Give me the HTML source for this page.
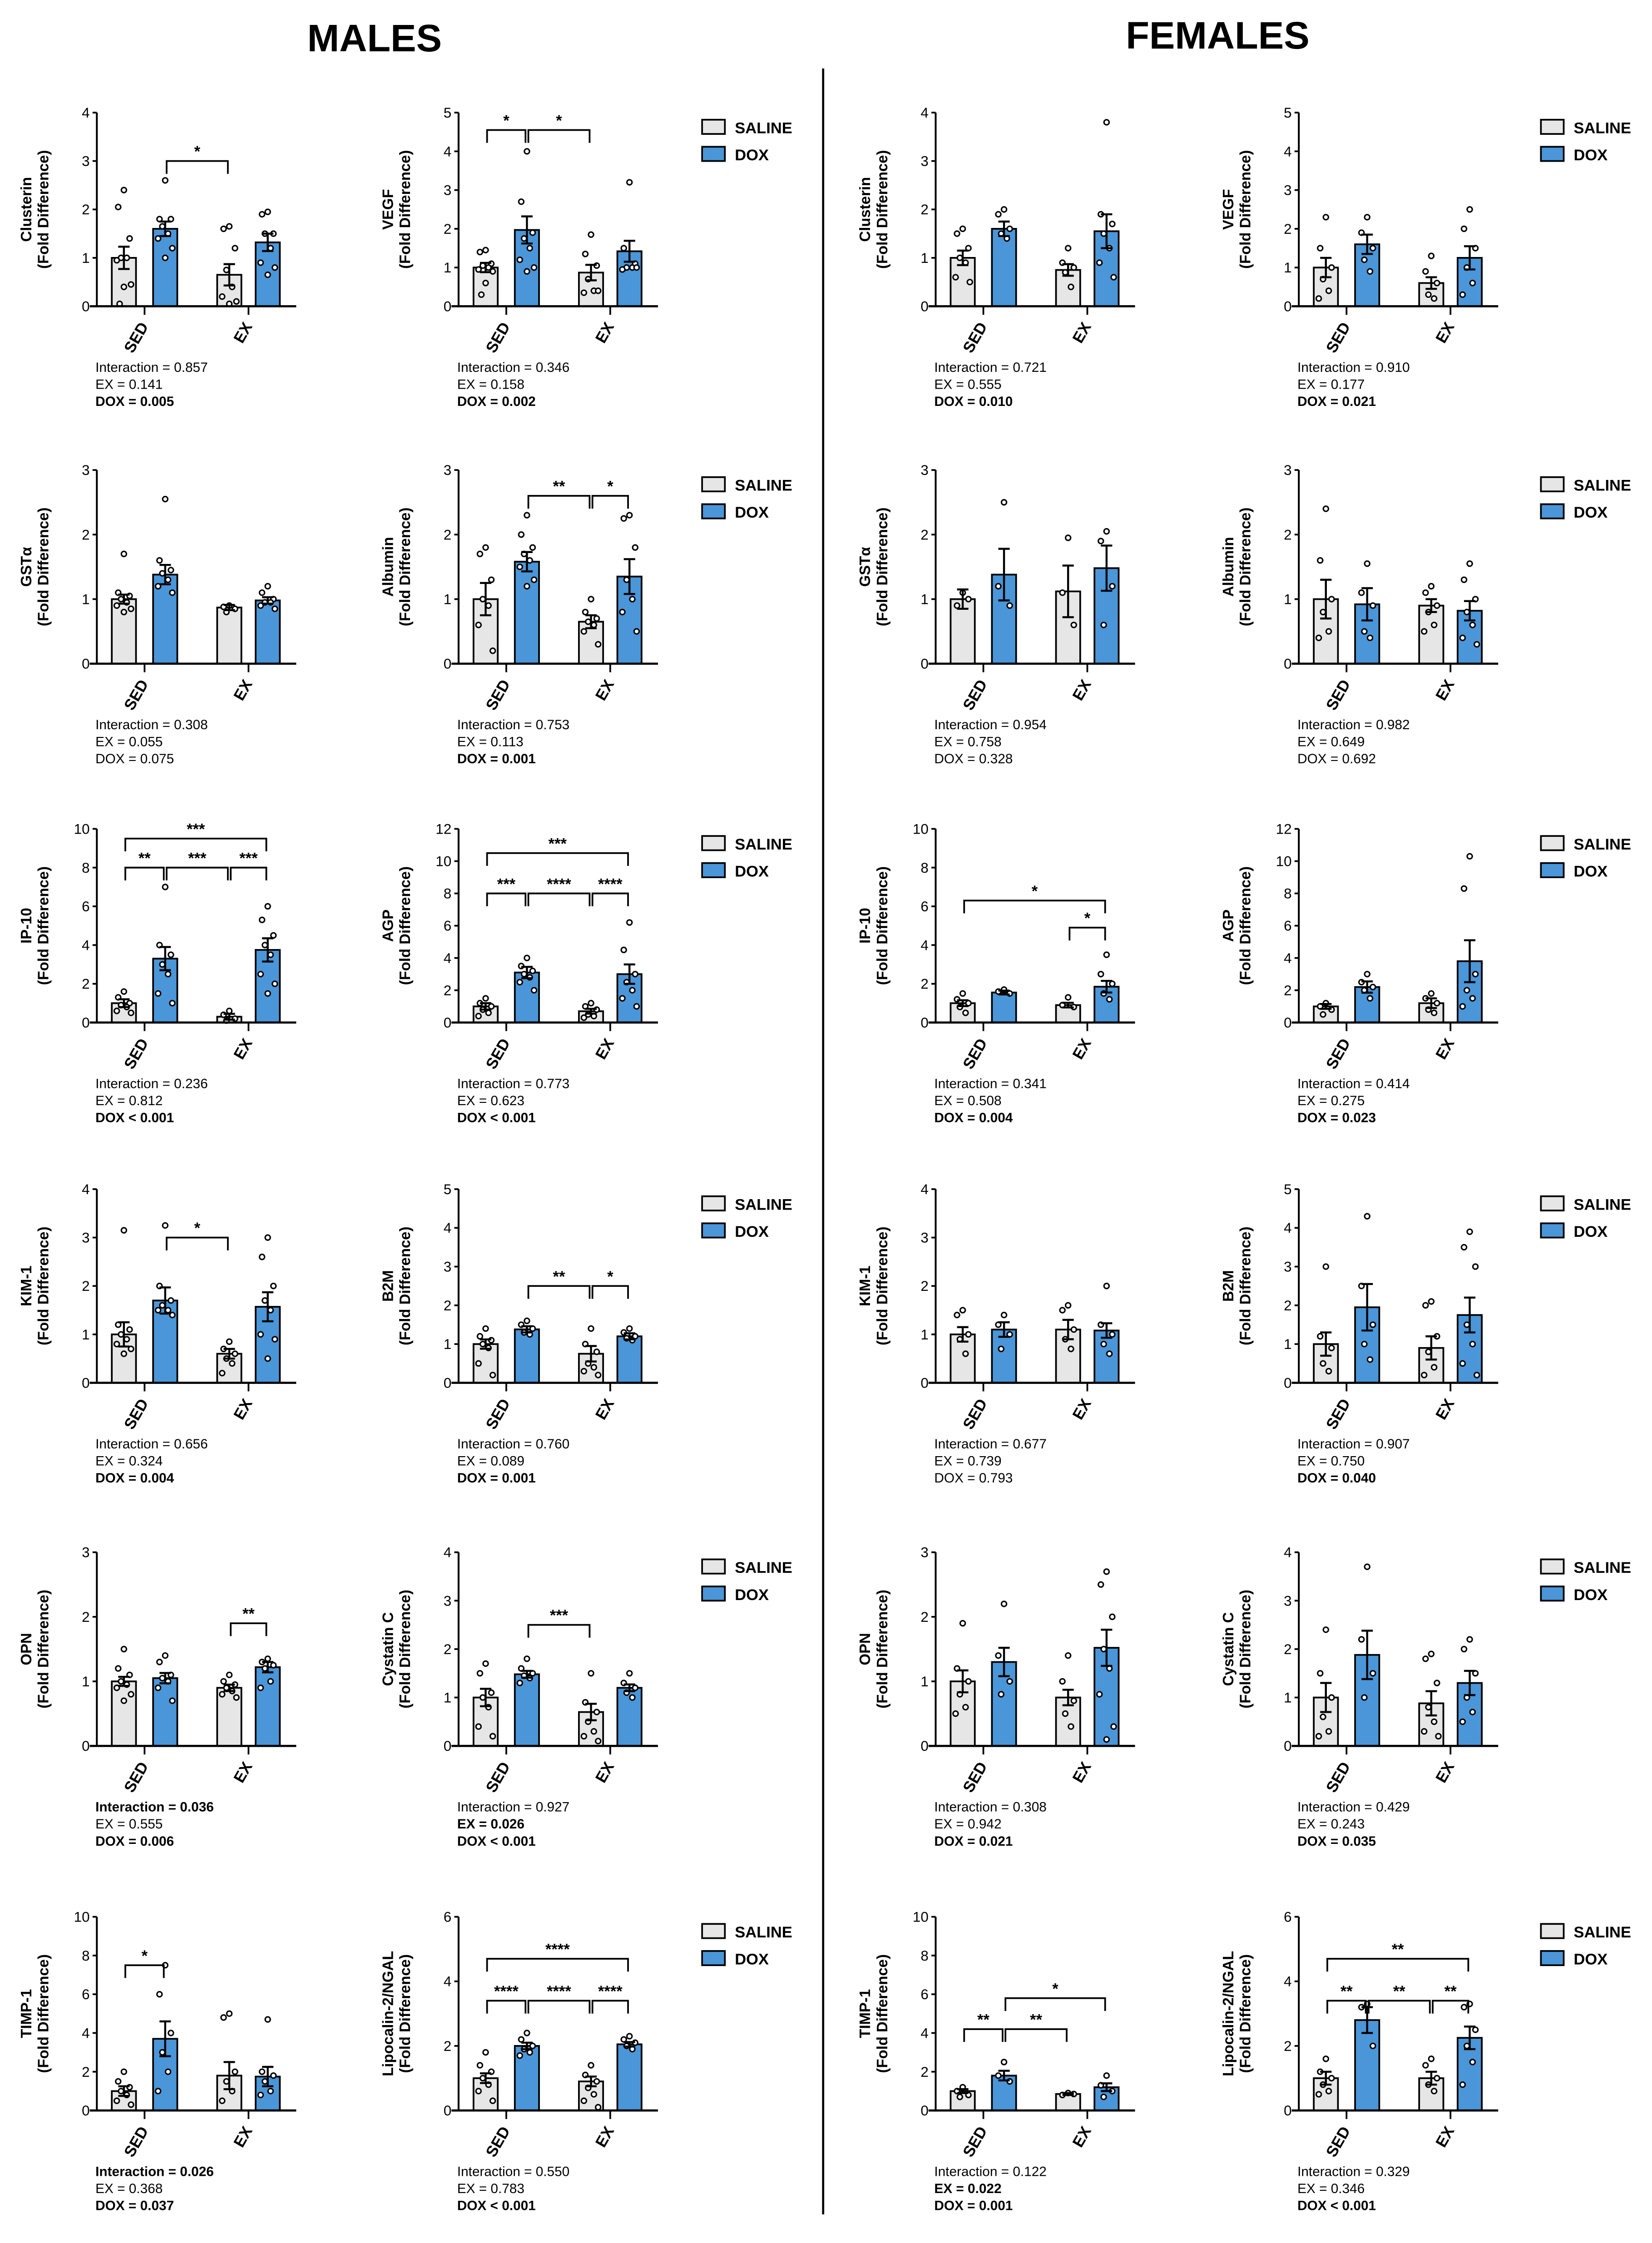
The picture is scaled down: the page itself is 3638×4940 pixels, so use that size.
<!DOCTYPE html>
<html><head><meta charset="utf-8"><style>
html,body{margin:0;padding:0;background:#fff}
svg{display:block;font-family:"Liberation Sans",sans-serif}
</style></head><body>
<svg id="fig" width="3638" height="4940" viewBox="0 0 1160 1575" xmlns="http://www.w3.org/2000/svg">
<rect width="1160" height="1575" fill="#fff"/>
<text x="263" y="36" font-size="27" font-weight="bold" text-anchor="middle">MALES</text>
<text x="855" y="34" font-size="27" font-weight="bold" text-anchor="middle">FEMALES</text>
<line x1="578" y1="48" x2="578" y2="1555" stroke="#000" stroke-width="1.5"/>
<g id="plots"></g>
</svg>
<script>
const panelNames=["Clusterin","VEGF","GSTα","Albumin","IP-10","AGP","KIM-1","B2M","OPN","Cystatin C","TIMP-1","Lipocalin-2/NGAL",
"Clusterin","VEGF","GSTα","Albumin","IP-10","AGP","KIM-1","B2M","OPN","Cystatin C","TIMP-1","Lipocalin-2/NGAL"];
const yMaxes=[4,5,3,3,10,12,4,5,3,4,10,6, 4,5,3,3,10,12,4,5,3,4,10,6];
const yStepsVals=[1,1,1,1,2,2,1,1,1,1,2,2, 1,1,1,1,2,2,1,1,1,1,2,2];
const categories=["SED","EX"];
const groups=["SALINE","DOX"];
const means=[[1.0,1.6,0.65,1.32],[1.0,1.97,0.87,1.42],[1.0,1.38,0.87,0.98],[1.0,1.58,0.65,1.35],[1.0,3.3,0.3,3.75],[1.0,3.1,0.7,3.0],
[1.0,1.7,0.6,1.57],[1.0,1.38,0.75,1.2],[1.0,1.05,0.9,1.22],[1.0,1.48,0.7,1.2],[1.0,3.7,1.8,1.75],[1.0,2.0,0.9,2.05],
[1.0,1.6,0.75,1.55],[1.0,1.6,0.6,1.25],[1.0,1.38,1.12,1.48],[1.0,0.92,0.9,0.82],[1.0,1.55,0.9,1.85],[1.0,2.2,1.2,3.8],
[1.0,1.1,1.1,1.08],[1.0,1.95,0.9,1.75],[1.0,1.3,0.75,1.52],[1.0,1.88,0.88,1.3],[1.0,1.8,0.85,1.2],[1.0,2.8,1.0,2.25]];
const errs=[[.23,.15,.22,.18],[.12,.35,.2,.27],[.07,.15,.04,.05],[.25,.15,.1,.27],[.2,.6,.15,.6],[.2,.35,.15,.6],
[.25,.27,.1,.3],[.12,.08,.2,.08],[.07,.08,.05,.08],[.18,.07,.17,.07],[.25,.9,.7,.5],[.15,.1,.15,.07],
[.15,.15,.12,.35],[.25,.25,.15,.3],[.15,.4,.4,.35],[.3,.25,.1,.15],[.15,.1,.12,.3],[.15,.35,.3,1.3],
[.15,.15,.2,.15],[.3,.6,.3,.45],[.17,.22,.12,.28],[.3,.5,.25,.25],[.1,.25,.05,.2],[.2,.4,.2,.35]];
const points=[
[[2.4,2.05,1.4,1.0,1.0,0.95,0.45,0.4,0.05],[2.6,1.8,1.8,1.65,1.5,1.4,1.2,1.0],[1.65,1.6,1.2,0.75,0.4,0.2,0.1,0.05],[1.95,1.9,1.5,1.5,1.2,0.9,0.8,0.65]],
[[1.45,1.4,1.1,1.05,1.0,0.95,0.9,0.6,0.3],[4.0,2.7,1.9,1.75,1.5,1.2,1.0,0.9],[1.85,1.35,1.05,0.7,0.4,0.35,0.4],[3.2,1.5,1.1,1.0,1.0,0.95,1.0]],
[[1.7,1.1,1.05,1.0,0.95,0.9,0.85,0.8],[2.55,1.6,1.45,1.4,1.3,1.2,1.1],[0.9,0.88,0.85,0.8],[1.2,1.1,1.0,0.95,0.95,0.9,0.85]],
[[1.8,1.7,1.3,1.0,0.9,0.6,0.2],[2.3,2.0,1.8,1.7,1.6,1.5,1.3,1.2],[1.0,0.8,0.7,0.65,0.6,0.5,0.3],[2.3,2.25,1.8,1.3,1.0,0.8,0.5]],
[[1.6,1.3,1.0,0.9,0.8,0.6,0.5],[7,4,3.5,3,2.5,1.5,1.0],[0.6,0.4,0.2,0.1],[6,5.3,4.5,4,3.5,2.5,2.0,1.5]],
[[1.5,1.2,1.0,0.8,0.6,0.4],[4,3.5,3.2,3,2.8,2.5,2.0],[1.2,1.0,0.8,0.5,0.4,0.3],[6.2,4.5,3,2.5,2,1.5,1.0]],
[[3.15,1.2,1.1,1.0,0.9,0.8,0.7,0.6],[3.25,2.0,1.7,1.6,1.5,1.5,1.4],[0.85,0.7,0.6,0.5,0.4,0.2],[3.0,2.6,2.0,1.7,1.5,1.0,0.9,0.5]],
[[1.4,1.2,1.1,1.0,0.9,0.5,0.2],[1.6,1.5,1.4,1.3,1.25],[1.4,1.0,0.8,0.5,0.4,0.3,0.2],[1.4,1.3,1.2,1.15,1.1]],
[[1.5,1.2,1.1,1.0,0.95,0.9,0.8,0.7],[1.4,1.3,1.1,1.05,1.0,0.9,0.7],[1.1,1.0,0.95,0.9,0.85,0.8,0.75],[1.35,1.3,1.25,1.2,1.0,0.9]],
[[1.7,1.5,1.1,1.0,0.8,0.4,0.2],[1.8,1.6,1.5,1.45,1.4,1.3],[1.5,0.9,0.7,0.5,0.3,0.2,0.1],[1.5,1.3,1.2,1.1,1.0]],
[[2,1.5,1.2,1,0.8,0.5,0.3],[7.5,6,4,3,2,1],[5,4.8,2,1.5,1,0.5],[4.7,2,1.8,1.5,1,0.8]],
[[1.8,1.4,1.2,1.0,0.8,0.6,0.3],[2.4,2.2,2.0,1.9,1.8,1.7],[1.4,1.1,0.9,0.7,0.5,0.3,0.1],[2.3,2.2,2.1,2.0,1.9]],
[[1.6,1.5,1.2,1.0,0.9,0.6,0.5],[2.0,1.9,1.6,1.5,1.4],[1.2,0.9,0.8,0.7,0.4],[3.8,1.9,1.7,1.5,1.2,0.9,0.6]],
[[2.3,1.5,1.0,0.7,0.4,0.2],[2.3,1.9,1.5,1.2,0.9],[1.3,0.9,0.6,0.3,0.2],[2.5,2.0,1.5,1.0,0.6,0.3]],
[[1.1,0.9,1.0],[2.5,1.2,0.9],[1.95,1.1,0.6],[2.05,1.9,1.2,0.6]],
[[2.4,1.6,1.0,0.8,0.5,0.4],[1.55,1.1,0.9,0.5,0.4],[1.2,1.1,0.9,0.8,0.6,0.5],[1.55,1.3,1.0,0.8,0.6,0.4,0.3]],
[[1.5,1.2,1.0,0.8,0.5],[1.7,1.6,1.5],[1.3,0.9,0.8],[3.5,2.5,2.0,1.5,1.2]],
[[1.2,1.0,0.8,0.5],[3,2.5,2.2,2,1.5],[1.8,1.5,1.2,0.8,0.6],[10.3,8.3,3,2,1.5,1.0]],
[[1.5,1.4,1.0,0.9,0.6],[1.4,1.2,1.0,0.7],[1.6,1.5,1.1,0.9,0.7],[2.0,1.2,1.0,0.8,0.6]],
[[3,1.2,0.9,0.5,0.3],[4.3,2.5,1.5,1.0,0.6],[2.1,2.0,1.2,0.8,0.4,0.2],[3.9,3.5,3,1.5,1.0,0.5,0.2]],
[[1.9,1.2,1.0,0.8,0.6,0.5],[2.2,1.4,1.0,0.8],[1.4,1.0,0.7,0.5,0.3],[2.7,2.5,2.0,1.5,1.2,0.8,0.3,0.1]],
[[2.4,1.5,1.0,0.6,0.3,0.2],[3.7,2.2,1.5,1.0],[1.9,1.8,1.3,0.8,0.5,0.3,0.2],[2.2,2.0,1.5,1.0,0.7,0.5]],
[[1.2,1.0,0.8,0.7],[2.5,1.8,1.5],[0.9,0.8,0.85],[1.8,1.3,1.0,0.7]],
[[1.6,1.2,1.0,0.8,0.6,0.5],[3.3,3.2,2.0],[1.6,1.4,1.0,0.8,0.6],[3.3,3.2,2.5,2.0,1.5,0.8]]];
const brackets=[[[1,2,3.0,"*"]],[[0,1,4.55,"*"],[1,2,4.55,"*"]],[],[[1,2,2.6,"**"],[2,3,2.6,"*"]],
[[0,1,8,"**"],[1,2,8,"***"],[2,3,8,"***"],[0,3,9.5,"***"]],[[0,1,8,"***"],[1,2,8,"****"],[2,3,8,"****"],[0,3,10.5,"***"]],
[[1,2,3.0,"*"]],[[1,2,2.5,"**"],[2,3,2.5,"*"]],[[2,3,1.9,"**"]],[[1,2,2.5,"***"]],[[0,1,7.5,"*"]],
[[0,1,3.4,"****"],[1,2,3.4,"****"],[2,3,3.4,"****"],[0,3,4.7,"****"]],
[],[],[],[],[[2,3,4.9,"*"],[0,3,6.3,"*"]],[],[],[],[],[],[[0,1,4.2,"**"],[1,2,4.2,"**"],[1,3,5.8,"*"]],
[[0,1,3.4,"**"],[1,2,3.4,"**"],[2,3,3.4,"**"],[0,3,4.7,"**"]]];
const stats=[["Interaction = 0.857","EX = 0.141","DOX = 0.005"],["Interaction = 0.346","EX = 0.158","DOX = 0.002"],
["Interaction = 0.308","EX = 0.055","DOX = 0.075"],["Interaction = 0.753","EX = 0.113","DOX = 0.001"],
["Interaction = 0.236","EX = 0.812","DOX < 0.001"],["Interaction = 0.773","EX = 0.623","DOX < 0.001"],
["Interaction = 0.656","EX = 0.324","DOX = 0.004"],["Interaction = 0.760","EX = 0.089","DOX = 0.001"],
["Interaction = 0.036","EX = 0.555","DOX = 0.006"],["Interaction = 0.927","EX = 0.026","DOX < 0.001"],
["Interaction = 0.026","EX = 0.368","DOX = 0.037"],["Interaction = 0.550","EX = 0.783","DOX < 0.001"],
["Interaction = 0.721","EX = 0.555","DOX = 0.010"],["Interaction = 0.910","EX = 0.177","DOX = 0.021"],
["Interaction = 0.954","EX = 0.758","DOX = 0.328"],["Interaction = 0.982","EX = 0.649","DOX = 0.692"],
["Interaction = 0.341","EX = 0.508","DOX = 0.004"],["Interaction = 0.414","EX = 0.275","DOX = 0.023"],
["Interaction = 0.677","EX = 0.739","DOX = 0.793"],["Interaction = 0.907","EX = 0.750","DOX = 0.040"],
["Interaction = 0.308","EX = 0.942","DOX = 0.021"],["Interaction = 0.429","EX = 0.243","DOX = 0.035"],
["Interaction = 0.122","EX = 0.022","DOX = 0.001"],["Interaction = 0.329","EX = 0.346","DOX < 0.001"]];
const statsBold=[[0,0,1],[0,0,1],[0,0,0],[0,0,1],[0,0,1],[0,0,1],[0,0,1],[0,0,1],[1,0,1],[0,1,1],[1,0,1],[0,0,1],
[0,0,1],[0,0,1],[0,0,0],[0,0,0],[0,0,1],[0,0,1],[0,0,0],[0,0,1],[0,0,1],[0,0,1],[0,1,1],[0,0,1]];

const NS="http://www.w3.org/2000/svg";
const root=document.getElementById("plots");
const axisXs=[68,322,657,912];
const zeroYs=[215,466,718,971,1226,1482];
const H=136, barOff=[19,48,93,120], BW=17;
const fills=["#e6e6e6","#4a96d8"];
function mk(tag,attrs,parent){const e=document.createElementNS(NS,tag);for(const k in attrs)e.setAttribute(k,attrs[k]);(parent||root).appendChild(e);return e;}

for(let p=0;p<24;p++){
  const female=p>=12, idx=p%12, row=Math.floor(idx/2), col=(female?2:0)+idx%2;
  const ax=axisXs[col], zy=zeroYs[row], ymax=yMaxes[p];
  const yS=v=>zy-v/ymax*H;
  const xS=i=>ax+barOff[i];
  const g=mk("g",{});
  
  
  const ya=mk("line",{x1:ax,y1:yS(ymax),x2:ax,y2:zy,stroke:"#000","stroke-width":1.3},g);
  
  
  for(let v=0;v<=ymax+1e-9;v+=yStepsVals[p]){
    mk("line",{x1:ax-3,y1:yS(v),x2:ax,y2:yS(v),stroke:"#000","stroke-width":1.2},g);
    const t=mk("text",{x:ax-5,y:yS(v)+3.5,"font-size":10,"text-anchor":"end"},g);
    t.textContent=v;
    
    
  }
  const yl=mk("text",{transform:`translate(${ax-46},${zy-H/2}) rotate(-90)`,"font-size":10.5,"font-weight":"bold","text-anchor":"middle"},g);
  
  
  const t1=mk("tspan",{x:0,y:0},yl); t1.textContent=panelNames[p];
  const t2=mk("tspan",{x:0,y:12},yl); t2.textContent="(Fold Difference)";
  for(let i=0;i<4;i++){
    const m=means[p][i], e=errs[p][i], cx=xS(i);
    const b=mk("rect",{x:cx-BW/2,y:yS(m),width:BW,height:zy-yS(m),fill:fills[i%2],stroke:"#000","stroke-width":1.2},g);
    
    
    points[p][i].forEach((v,k)=>{
      const off=[0,-4,4,-2,2,-5,5,0,-3][k%9];
      const c=mk("circle",{cx:cx+off,cy:yS(v),r:1.8,fill:"#fff",stroke:"#000","stroke-width":1},g);
      
      
    });
    const eb=mk("path",{d:`M${cx},${yS(m-e)}V${yS(m+e)}M${cx-4},${yS(m+e)}H${cx+4}M${cx-4},${yS(m-e)}H${cx+4}`,stroke:"#000","stroke-width":1.4,fill:"none"},g);
    
    
  }
  const xa=mk("line",{x1:ax-5,y1:zy,x2:ax+140,y2:zy,stroke:"#000","stroke-width":1.5},g);
  
  
  for(let c=0;c<2;c++){
    const tx=(xS(2*c)+xS(2*c+1))/2;
    mk("line",{x1:tx,y1:zy,x2:tx,y2:zy+6,stroke:"#000","stroke-width":1.2},g);
    const t=mk("text",{transform:`translate(${tx+3},${zy+14}) rotate(-60)`,"font-size":11,"font-weight":"bold","text-anchor":"end"},g);
    t.textContent=categories[c];
    
    
  }
  brackets[p].forEach(br=>{
    const [a,b,v,lab]=br, y=yS(v), x1=xS(a)+1, x2=xS(b)-1;
    const pth=mk("path",{d:`M${x1},${y+9}V${y}H${x2}V${y+9}`,stroke:"#000","stroke-width":1.2,fill:"none"},g);
    
    
    const t=mk("text",{x:(x1+x2)/2,y:y-3,"font-size":11,"font-weight":"bold","text-anchor":"middle"},g);
    t.textContent=lab;
    
    
  });
  stats[p].forEach((s,k)=>{
    const t=mk("text",{x:ax-1,y:zy+46+k*12,"font-size":9.5,"font-weight":statsBold[p][k]?"bold":"normal"},g);
    t.textContent=s;
    
    
  });
  if(idx%2===1){
    const lx=female?1082:493;
    groups.forEach((gn,k)=>{
      const ly=zy-131+k*19;
      const r=mk("rect",{x:lx,y:ly,width:16,height:10,fill:fills[k],stroke:"#000","stroke-width":1.2},g);
      
      
      const t=mk("text",{x:lx+23,y:ly+9.5,"font-size":11,"font-weight":"bold"},g);
      t.textContent=gn;
      
      
    });
  }
}
</script>
</body></html>
